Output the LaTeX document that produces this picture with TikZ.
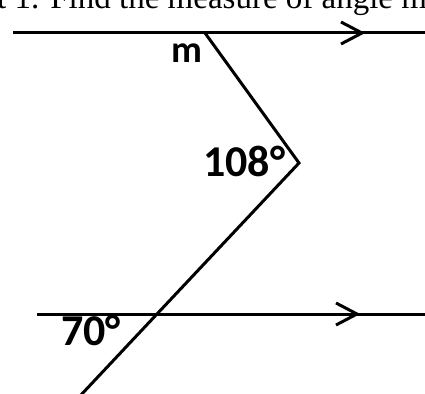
\documentclass[tikz,border=0pt]{standalone}
\usepackage{fontspec}
\setmainfont{Liberation Serif}
\newfontfamily\labfont{Carlito}
\tikzset{
  geoline/.style={line width=3pt, black},
  chev/.style={line width=3pt, black, line join=miter, line cap=butt},
  lab/.style={inner sep=0pt, anchor=base west, font=\labfont\bfseries\fontsize{44}{44}\selectfont},
  labm/.style={inner sep=0pt, anchor=base west, font=\labfont\bfseries\fontsize{38}{38}\selectfont},
  title/.style={inner sep=0pt, anchor=base west, font=\fontsize{33}{33}\selectfont}
}
\begin{document}
\begin{tikzpicture}[x=1pt,y=-1pt]
\useasboundingbox (0,0) rectangle (425,393);
\clip (0,0) rectangle (425,393);
\fill[white] (0,0) rectangle (425,393);
% title text (cut off at top)
\node[title] (title) at (-3,9) {t 1. Find the measure of angle m};
% points
\coordinate (tl) at (13,33);
\coordinate (tr) at (430,33);
\coordinate (bl) at (37,314);
\coordinate (br) at (430,314);
\coordinate (p) at (205,33);
\coordinate (v) at (299,163);
\coordinate (q) at (157,314);
\coordinate (e) at (80,396);
% parallel lines
\draw[geoline] (tl) -- (tr);
\draw[geoline] (bl) -- (br);
% transversals
\draw[geoline, line join=miter] (p) -- (v) -- (q) -- (e);
% arrow marks
\coordinate (ta) at (362,33);
\coordinate (tb) at (341,22);
\coordinate (tc) at (341,44);
\draw[chev] (tb) -- (ta) -- (tc);
\coordinate (ba) at (357,314);
\coordinate (bb) at (336,303);
\coordinate (bc) at (336,325);
\draw[chev] (bb) -- (ba) -- (bc);
% labels
\node[labm] (m) at (171,63) {m};
\node[lab] (a108) at (203,176) {108°};
\node[lab] (a70) at (61,345) {70°};
\end{tikzpicture}
\end{document}
